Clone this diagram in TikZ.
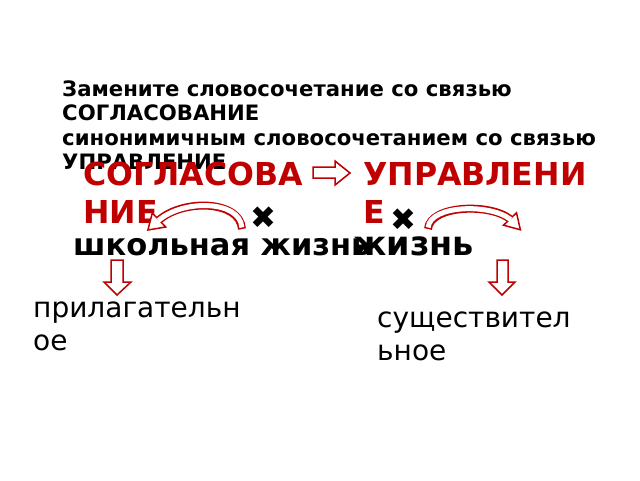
\documentclass[tikz,border=0pt]{standalone}
\usepackage{fontspec}
\setmainfont{DejaVu Sans}
\definecolor{darkred}{RGB}{192,0,0}
\tikzset{
  task/.style={anchor=base west, inner sep=0pt, font=\bfseries\fontsize{21.2}{24}\selectfont},
  term/.style={anchor=base west, inner sep=0pt, text=darkred, font=\bfseries\fontsize{31.6}{38}\selectfont},
  phrase/.style={anchor=base west, inner sep=0pt, font=\bfseries\fontsize{30.5}{36}\selectfont},
  part/.style={anchor=base west, inner sep=0pt, font=\fontsize{28}{33}\selectfont},
  cross/.style={inner sep=0pt, font=\fontsize{31}{31}\selectfont},
  hollow/.style={draw=darkred, fill=white, line width=1.5pt, line join=miter},
  bandout/.style={draw=darkred, line width=8pt},
  bandin/.style={draw=white, line width=5pt, shorten <=1.5pt, shorten >=-1pt},
}
\begin{document}
\begin{tikzpicture}[x=1pt,y=-1pt]
    \useasboundingbox (0,0) rectangle (640,480);

    % task text
    \node[task] (l1) at (62,96) {Замените словосочетание со связью};
    \node[task] (l2) at (62,120) {СОГЛАСОВАНИЕ};
    \node[task] (l3) at (62,145) {синонимичным словосочетанием со связью};
    \node[task] (l4) at (62,169) {УПРАВЛЕНИЕ};

    % terms
    \node[term] (s1) at (83,185) {СОГЛАСОВА};
    \node[term] (s2) at (83,223) {НИЕ};
    \node[term] (u1) at (363,185) {УПРАВЛЕНИ};
    \node[term] (u2) at (363,223) {Е};

    \node[phrase] (ph) at (73,255) {школьная жизнь};
    \node[phrase, font=\bfseries\fontsize{33.5}{36}\selectfont] (ph2) at (353,255) {жизнь};

    \node[cross] (x1) at (263,218) {✖};
    \node[cross] (x2) at (403,220) {✖};

    % parts of speech
    \node[part] (a1) at (33,317) {прилагательн};
    \node[part] (a2) at (33,350) {ое};
    \node[part] (n1) at (377,327) {существител};
    \node[part] (n2) at (377,360) {ьное};

    % block arrows
    \draw[hollow] (313,167) -- (335,167) -- (335,161) -- (350,173) -- (335,185) -- (335,178) -- (313,178) -- cycle;
    \draw[hollow] (111,260) -- (123,260) -- (123,282) -- (131,282) -- (117,295) -- (104,282) -- (111,282) -- cycle;
    \draw[hollow] (497,260) -- (508,260) -- (508,282) -- (515,282) -- (502,295) -- (489,282) -- (497,282) -- cycle;

    % curved arrows
    \draw[hollow] (165.7,227) -- (147.9,230) -- (152.3,213) -- cycle;
    \draw[bandout] (242,229) .. controls (240,200) and (183,199) .. (159,220);
    \draw[bandin] (242,229) .. controls (240,200) and (183,199) .. (159,220);

    \draw[hollow] (516.5,212.8) -- (520.4,229.8) -- (503.5,225.2) -- cycle;
    \draw[bandout] (428,229) .. controls (430,205) and (490,203) .. (510,219);
    \draw[bandin] (428,229) .. controls (430,205) and (490,203) .. (510,219);
\end{tikzpicture}
\end{document}
